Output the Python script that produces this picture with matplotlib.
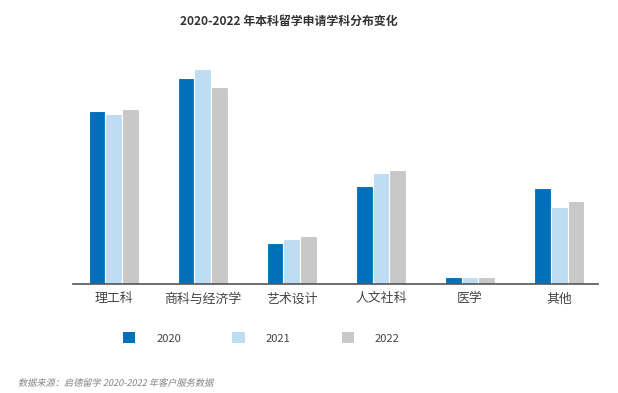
import matplotlib
matplotlib.use('Agg')
import matplotlib.pyplot as plt
import numpy as np
from matplotlib.patches import Patch, PathPatch
from matplotlib.textpath import TextPath
from matplotlib.font_manager import FontProperties
from matplotlib.transforms import Affine2D

plt.rcParams['font.family'] = ['Noto Sans CJK SC', 'DejaVu Sans']

categories = ['理工科', '商科与经济学', '艺术设计', '人文社科', '医学', '其他']
years = ['2020', '2021', '2022']
v2020 = [173, 206, 41, 98, 7, 96]
v2021 = [170, 215, 45, 111, 7, 77]
v2022 = [175, 197, 48, 114, 7, 83]
colors = ['#0070BA', '#BEDCF2', '#C8C8C8']

fig = plt.figure(figsize=(6.18, 3.93), dpi=100)
ax = fig.add_axes([0.118, 0.277, 0.85, 0.57])

x = np.arange(len(categories))
w = 0.19
for i, (vals, c) in enumerate(zip([v2020, v2021, v2022], colors)):
    ax.bar(x + (i - 1) * w, vals, width=w, color=c, edgecolor='white', linewidth=0.8, zorder=2)

ax.set_xlim(-0.46, 5.44)
ax.set_ylim(0, 224)
ax.set_yticks([])
for s in ['left', 'right', 'top']:
    ax.spines[s].set_visible(False)
ax.spines['bottom'].set_color('#555555')
ax.spines['bottom'].set_linewidth(1.2)
ax.spines['bottom'].set_zorder(3)
ax.set_xticks(x)
ax.set_xticklabels(categories, fontsize=9.3, color='#444444')
ax.tick_params(axis='x', length=0, pad=6)

fig.text(0.468, 0.945, '2020-2022 年本科留学申请学科分布变化', ha='center', va='center',
         fontsize=8.6, fontweight='bold', color='#333333')

handles = [Patch(facecolor=c, edgecolor='none') for c in colors]
fig.legend(handles, years, loc='center', bbox_to_anchor=(0.423, 0.14), ncol=3, frameon=False,
           fontsize=8, labelcolor='#444444', handlelength=1.1, handleheight=1.1,
           handletextpad=1.9, columnspacing=4.6)

# 斜体来源说明（CJK 字体没有斜体，用错切变换模拟）
src = '数据来源：启德留学 2020-2022 年客户服务数据'
tp = TextPath((0, 0), src, size=9.2, prop=FontProperties(family=['Noto Sans CJK SC', 'DejaVu Sans']))
tr = Affine2D().skew_deg(12, 0).translate(18, 393 - 386)
fig.patches.append(PathPatch(tr.transform_path(tp), facecolor='#808080', edgecolor='none',
                             transform=None, figure=fig))

fig.savefig('out.png', dpi=100)
